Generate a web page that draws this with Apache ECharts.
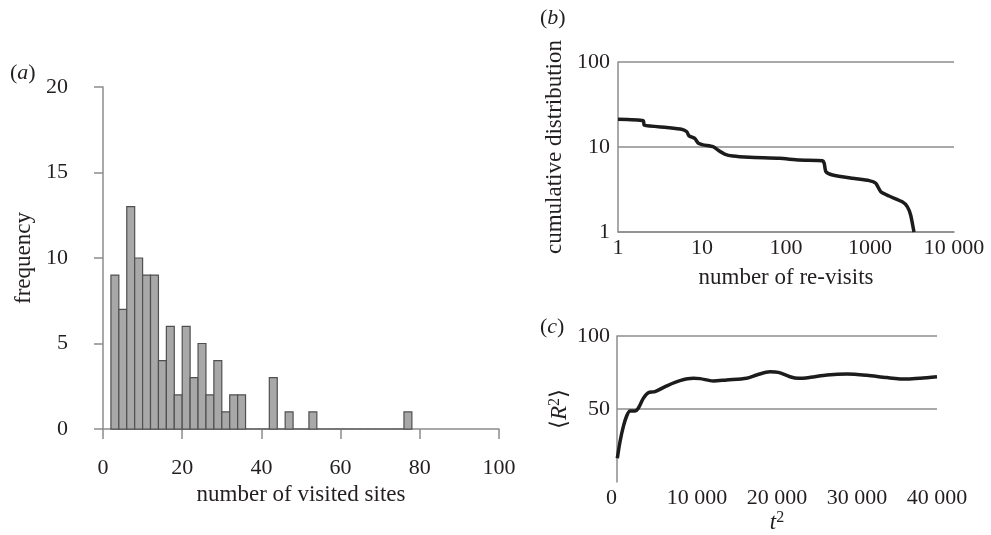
<!DOCTYPE html>
<html>
<head>
<meta charset="utf-8">
<script src="https://cdn.jsdelivr.net/npm/echarts@6/dist/echarts.min.js"></script>
<style>
  html, body { margin: 0; padding: 0; background: #fff; }
  #chart { width: 991px; height: 535px; }
</style>
</head>
<body>
<div id="chart"></div>
<script>
// (a) histogram of visited sites, bins of width 2
const binStarts = [2, 4, 6, 8, 10, 12, 14, 16, 18, 20, 22, 24, 26, 28, 30, 32, 34, 36, 38,
  40, 42, 44, 46, 48, 50, 52, 54, 56, 58, 60, 62, 64, 66, 68, 70, 72, 74, 76];
const binCounts = [9, 7, 13, 10, 9, 9, 4, 6, 2, 6, 3, 5, 2, 4, 1, 2, 2, 0, 0,
  0, 3, 0, 1, 0, 0, 1, 0, 0, 0, 0, 0, 0, 0, 0, 0, 0, 0, 1];
const binWidth = 2;

// (b) cumulative distribution of re-visits (log-log)
const revisits = [1, 2.0, 2.05, 3.8, 5.7, 6.6, 7.0, 8.2, 9.0, 10.3, 13.5, 15.5, 18.6, 23.3, 36.8,
  84, 144, 272, 285, 299, 358, 617, 977, 1172, 1344, 1686, 2421, 2778, 3047, 3337];
const cumDist = [21.2, 20.4, 18.1, 17.0, 16.2, 15.1, 13.5, 12.6, 11.1, 10.6, 10.1, 9.2, 8.27, 7.83, 7.57,
  7.36, 7.03, 6.9, 6.43, 5.12, 4.69, 4.28, 4.02, 3.74, 2.98, 2.65, 2.27, 1.99, 1.585, 1.0];
const revisitTicks = ['1', '10', '100', '1000', '10 000'];

// (c) mean squared displacement vs t^2
const tSquared = [40, 375, 790, 1210, 1625, 2250, 2660, 3290, 3910, 4750, 6210, 7875, 9540, 10375,
  12040, 13710, 16210, 17460, 19125, 20160, 21625, 22660, 24167, 26250, 28750, 31250, 33750,
  36250, 37900, 40000];
const meanR2 = [16.2, 27.6, 37.9, 45.2, 48.6, 48.6, 50.5, 57.3, 61.2, 61.9, 65.8, 69.4, 71.0, 70.8,
  69.2, 69.9, 71.0, 73.3, 75.5, 75.1, 72.1, 71.0, 71.7, 73.3, 74.0, 73.1, 71.5, 70.5, 71.0, 72.1];
const t2Ticks = ['0', '10 000', '20 000', '30 000', '40 000'];

const font = 'Liberation Serif';
const gray = '#8c8c8c';
const ink = '#231f20';
const tickFont = { color: ink, fontFamily: font, fontSize: 22 };
const nameFont = { color: ink, fontFamily: font, fontSize: 23 };
// italic letter and raised exponent for the math labels
const mathRich = {
  i: { fontStyle: 'italic', fontFamily: font, fontSize: 23, color: ink, lineHeight: 26 },
  s: { fontFamily: font, fontSize: 16, color: ink, lineHeight: 26, verticalAlign: 'top' },
  n: { fontFamily: font, fontSize: 23, color: ink, lineHeight: 26 }
};
const letterRich = { i: { fontStyle: 'italic', fontSize: 22, fontFamily: font } };

const chart = echarts.init(document.getElementById('chart'));

const option = {
  animation: false,
  backgroundColor: '#fff',
  textStyle: { fontFamily: font },
  grid: [
    { left: 103, top: 87, width: 396, height: 342, outerBoundsMode: 'none' },
    { left: 618, top: 62, width: 336, height: 170, outerBoundsMode: 'none' },
    { left: 617, top: 336, width: 320, height: 146, outerBoundsMode: 'none' }
  ],
  xAxis: [
    {
      gridIndex: 0, type: 'value', min: 0, max: 100, interval: 20, offset: 14,
      name: 'number of visited sites', nameLocation: 'middle', nameGap: 40,
      nameTextStyle: nameFont,
      axisLine: { show: true, lineStyle: { color: gray, width: 1.5 } },
      axisTick: { show: true, length: 10, lineStyle: { color: gray, width: 1.5 } },
      axisLabel: Object.assign({ margin: 14 }, tickFont),
      splitLine: { show: false }
    },
    {
      gridIndex: 1, type: 'log', logBase: 10, min: 1, max: 10000,
      name: 'number of re-visits', nameLocation: 'middle', nameGap: 34,
      nameTextStyle: nameFont,
      axisLine: { show: true, lineStyle: { color: gray, width: 1.5 } },
      axisTick: { show: false },
      axisLabel: Object.assign({ margin: 5, formatter: (v, i) => revisitTicks[i] }, tickFont),
      splitLine: { show: false }
    },
    {
      gridIndex: 2, type: 'value', min: 0, max: 40000, interval: 10000,
      name: '{i|t}{s|2}', nameLocation: 'middle', nameGap: 16,
      nameTextStyle: Object.assign({ rich: mathRich }, nameFont),
      axisLine: { show: false },
      axisTick: { show: false },
      axisLabel: Object.assign({ margin: 5, alignMinLabel: 'right', formatter: (v, i) => t2Ticks[i] }, tickFont),
      splitLine: { show: false }
    }
  ],
  yAxis: [
    {
      gridIndex: 0, type: 'value', min: 0, max: 20, interval: 5, offset: 16,
      name: 'frequency', nameLocation: 'middle', nameGap: 52,
      nameTextStyle: nameFont,
      axisLine: { show: true, lineStyle: { color: gray, width: 1.5 } },
      axisTick: { show: true, length: 9, lineStyle: { color: gray, width: 1.5 } },
      axisLabel: Object.assign({ margin: 19 }, tickFont),
      splitLine: { show: false }
    },
    {
      gridIndex: 1, type: 'log', logBase: 10, min: 1, max: 100,
      name: 'cumulative distribution', nameLocation: 'middle', nameGap: 52,
      nameTextStyle: nameFont,
      axisLine: { show: true, lineStyle: { color: gray, width: 1.5 } },
      axisTick: { show: false },
      axisLabel: Object.assign({ margin: 8 }, tickFont),
      splitLine: { show: true, lineStyle: { color: gray, width: 1.5 } }
    },
    {
      gridIndex: 2, type: 'value', min: 0, max: 100, interval: 50,
      name: '{n|⟨}{i|R}{s|2}{n|⟩}', nameLocation: 'middle', nameGap: 44,
      nameTextStyle: Object.assign({ rich: mathRich }, nameFont),
      axisLine: { show: true, lineStyle: { color: gray, width: 1.5 } },
      axisTick: { show: false },
      axisLabel: Object.assign({ margin: 7, showMinLabel: false }, tickFont),
      splitLine: { show: true, showMinLine: false, lineStyle: { color: gray, width: 1.5 } }
    }
  ],
  graphic: [
    { type: 'text', left: 10, top: 62, style: { text: '({i|a})', font: '22px ' + font, fill: ink, rich: letterRich } },
    { type: 'text', left: 540, top: 7, style: { text: '({i|b})', font: '22px ' + font, fill: ink, rich: letterRich } },
    { type: 'text', left: 540, top: 316, style: { text: '({i|c})', font: '22px ' + font, fill: ink, rich: letterRich } }
  ],
  series: [
    {
      type: 'custom',
      xAxisIndex: 0, yAxisIndex: 0,
      data: binStarts.map((b, i) => [b, binCounts[i]]),
      encode: { x: 0, y: 1 },
      renderItem: function (params, api) {
        const x0 = api.value(0);
        const count = api.value(1);
        const base = api.coord([x0, 0]);
        const top = api.coord([x0 + binWidth, count]);
        const children = [{
          type: 'line',
          shape: { x1: base[0], y1: base[1], x2: top[0], y2: base[1] },
          style: { stroke: '#555', lineWidth: 1.2 }
        }];
        if (count > 0) {
          children.push({
            type: 'rect',
            shape: { x: base[0], y: top[1], width: top[0] - base[0], height: base[1] - top[1] },
            style: { fill: '#a8a8a8', stroke: '#505050', lineWidth: 1.2 }
          });
        }
        return { type: 'group', children: children };
      }
    },
    {
      type: 'line',
      xAxisIndex: 1, yAxisIndex: 1,
      data: revisits.map((r, i) => [r, cumDist[i]]),
      showSymbol: false,
      smooth: 0.2,
      lineStyle: { color: '#1c1c1c', width: 3.5 }
    },
    {
      type: 'line',
      xAxisIndex: 2, yAxisIndex: 2,
      data: tSquared.map((t, i) => [t, meanR2[i]]),
      showSymbol: false,
      smooth: 0.3,
      lineStyle: { color: '#1c1c1c', width: 3.5 }
    }
  ]
};

chart.setOption(option);
</script>
</body>
</html>
